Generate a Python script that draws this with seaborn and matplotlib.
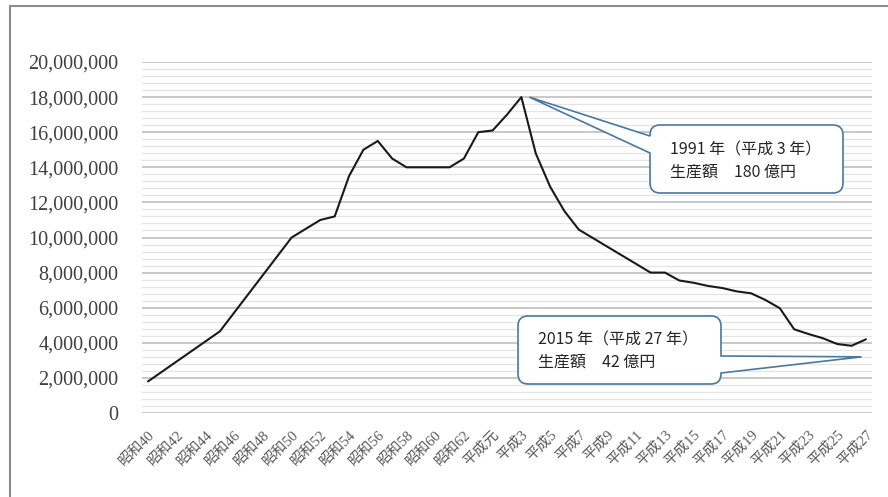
import matplotlib
matplotlib.use("Agg")
import matplotlib.pyplot as plt
import seaborn as sns
import pandas as pd
from matplotlib.path import Path
from matplotlib.patches import PathPatch
from matplotlib.transforms import IdentityTransform
from matplotlib.lines import Line2D
from matplotlib.ticker import MultipleLocator, FuncFormatter

# Data: production value per year, Showa 40 (1965) to Heisei 27 (2015)
years = list(range(1965, 2016))
values = [
    1800000, 2370000, 2940000, 3510000, 4080000, 4650000,
    5720000, 6790000, 7860000, 8930000, 10000000,
    10500000, 11000000, 11200000, 13500000, 15000000,
    15500000, 14500000, 14000000, 14000000, 14000000,
    14000000, 14500000, 16000000, 16100000, 17000000,
    18000000, 14800000, 12900000, 11500000, 10450000,
    9960000, 9470000, 8980000, 8490000, 8000000,
    8000000, 7550000, 7420000, 7240000, 7120000,
    6930000, 6820000, 6440000, 5970000, 4770000,
    4500000, 4260000, 3930000, 3830000, 4200000,
]
tick_labels = [
    "昭和40", "昭和42", "昭和44", "昭和46", "昭和48", "昭和50",
    "昭和52", "昭和54", "昭和56", "昭和58", "昭和60", "昭和62",
    "平成元", "平成3", "平成5", "平成7", "平成9", "平成11",
    "平成13", "平成15", "平成17", "平成19", "平成21", "平成23",
    "平成25", "平成27",
]
note_peak = ["1991 年（平成 3 年）", "生産額　180 億円"]
note_last = ["2015 年（平成 27 年）", "生産額　42 億円"]

W, H = 888, 497
JP = ["Noto Sans CJK JP", "DejaVu Sans"]
SERIF = ["Liberation Serif", "Noto Sans CJK JP", "DejaVu Serif"]
EDGE = "#4a78a0"

df = pd.DataFrame({"idx": range(len(years)), "year": years, "value": values})

sns.set_theme(style="white")
plt.rcParams["font.family"] = SERIF

fig = plt.figure(figsize=(W / 100, H / 100), dpi=100)
ax = fig.add_axes([142 / W, 1 - 413 / H, 730 / W, 351 / H])

sns.lineplot(data=df, x="idx", y="value", color="#1a1a1a", linewidth=1.5, ax=ax, zorder=3)

ax.set_xlim(-0.42, len(years) - 1 + 0.42)
ax.set_ylim(0, 20000000)
ax.yaxis.set_major_locator(MultipleLocator(2000000))
ax.yaxis.set_minor_locator(MultipleLocator(400000))
ax.yaxis.set_major_formatter(FuncFormatter(lambda v, p: f"{int(v):,}"))
ax.grid(axis="y", which="major", color="#bfbfbf", linewidth=1.2, zorder=1)
ax.grid(axis="y", which="minor", color="#e4e4e4", linewidth=0.9, zorder=1)
ax.set_axisbelow(True)
for s in ax.spines.values():
    s.set_visible(False)
ax.set_xlabel("")
ax.set_ylabel("")

ax.set_xticks(df["idx"][::2])
ax.set_xticklabels(tick_labels, rotation=45, ha="right", rotation_mode="anchor")
ax.tick_params(axis="x", length=0, pad=11, labelsize=10.5, labelcolor="#595959")
ax.tick_params(axis="y", which="both", length=0, pad=17, labelsize=14.5,
               labelcolor="#404040")


def callout(x0, y0, x1, y1, side, b_hi, b_lo, tip, r=10):
    # rounded box with a wedge, in pixel coords (y up)
    M, L, C, Z = Path.MOVETO, Path.LINETO, Path.CURVE3, Path.CLOSEPOLY
    verts = [(x0 + r, y1), (x1 - r, y1), (x1, y1), (x1, y1 - r)]
    codes = [M, L, C, C]
    if side == "right":
        verts += [(x1, b_hi), tip, (x1, b_lo)]
        codes += [L, L, L]
    verts += [(x1, y0 + r), (x1, y0), (x1 - r, y0), (x0 + r, y0), (x0, y0), (x0, y0 + r)]
    codes += [L, C, C, L, C, C]
    if side == "left":
        verts += [(x0, b_lo), tip, (x0, b_hi)]
        codes += [L, L, L]
    verts += [(x0, y1 - r), (x0, y1), (x0 + r, y1), (x0 + r, y1)]
    codes += [L, C, C, Z]
    patch = PathPatch(Path(verts, codes), facecolor="white", edgecolor=EDGE,
                      linewidth=1.2, transform=IdentityTransform(), zorder=5)
    fig.add_artist(patch)


peak_i = values.index(max(values))
tx, ty = ax.transData.transform((peak_i, values[peak_i]))
callout(650, H - 193, 843, H - 125, "left", H - 136, H - 153, (tx + 8, ty))
tx2, ty2 = ax.transData.transform((49.7, 3200000))
callout(518, H - 384, 721, H - 316, "right", H - 356, H - 373, (tx2, ty2))

for (x, y), txt in zip([(670, 150), (670, 172)], note_peak):
    fig.text(x / W, 1 - y / H, txt, fontsize=11.5, color="#262626", va="center",
             ha="left", family=JP, zorder=6)
for (x, y), txt in zip([(538, 340), (538, 362)], note_last):
    fig.text(x / W, 1 - y / H, txt, fontsize=11.5, color="#262626", va="center",
             ha="left", family=JP, zorder=6)

# outer frame (top and left edges visible)
fig.add_artist(Line2D([10 / W, 1], [1 - 6 / H, 1 - 6 / H], color="#8c8c8c",
                      linewidth=1.5, transform=fig.transFigure))
fig.add_artist(Line2D([10 / W, 10 / W], [0, 1 - 6 / H], color="#8c8c8c",
                      linewidth=1.5, transform=fig.transFigure))

fig.savefig("out.png", dpi=100)
